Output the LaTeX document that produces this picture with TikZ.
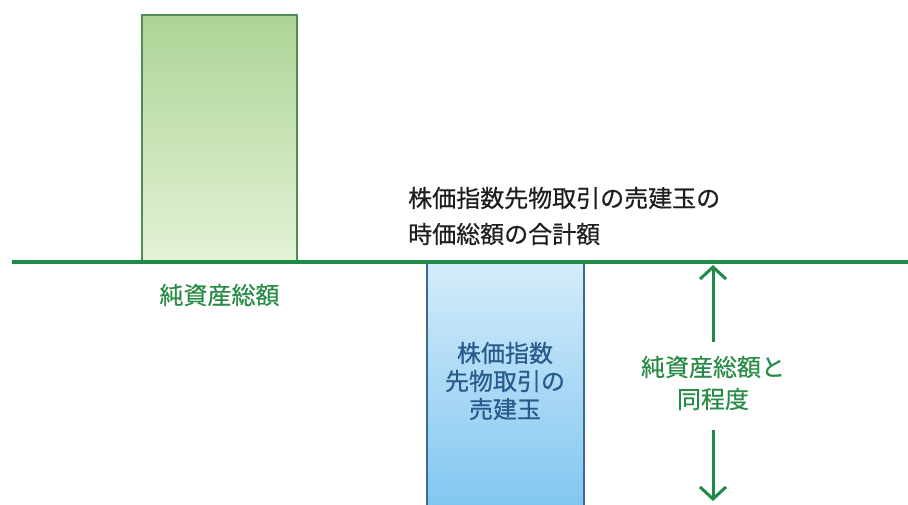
\documentclass[tikz,border=0pt]{standalone}
\usepackage{fontspec}
\setmainfont{Noto Sans CJK JP}[FakeBold=0.5]
\usetikzlibrary{arrows.meta}
\definecolor{lineg}{RGB}{30,140,70}
\definecolor{gtop}{RGB}{172,212,150}
\definecolor{gbot}{RGB}{228,242,214}
\definecolor{gedge}{RGB}{80,140,85}
\definecolor{btop}{RGB}{212,236,250}
\definecolor{bbot}{RGB}{128,198,240}
\definecolor{bedge}{RGB}{60,105,150}
\definecolor{btext}{RGB}{40,90,140}
\definecolor{gtext}{RGB}{40,140,70}
\definecolor{ktext}{RGB}{30,30,30}
\tikzset{
  lbl/.style={font=\fontsize{24}{32}\selectfont, align=center, inner sep=0pt},
  arr/.style={draw=lineg, line width=3pt, -{Straight Barb[length=12pt,width=26pt,line width=3pt]}}
}
\begin{document}
\begin{tikzpicture}[x=1pt,y=-1pt]
\useasboundingbox (0,0) rectangle (908,505);
\fill[white] (0,0) rectangle (908,505);
% green bar
\shade[top color=gtop, bottom color=gbot] (142,15) rectangle (297,262);
\draw[gedge, line width=2.5pt] (142,262) -- (142,15) -- (297,15) -- (297,262);
% blue bar
\begin{scope}
\clip (0,0) rectangle (908,505);
\shade[top color=btop, bottom color=bbot] (427,263) rectangle (584,510);
\draw[bedge, line width=2.5pt] (427,510) -- (427,263) -- (584,263) -- (584,510);
\end{scope}
% baseline
\coordinate (L) at (12,262);
\coordinate (R) at (908,262);
\draw[lineg, line width=4pt] (L) -- (R);
% labels
\node[lbl, text=ktext, align=left, anchor=west, font=\fontsize{24}{36}\selectfont] (top) at (408,216) {株価指数先物取引の売建玉の\\時価総額の合計額};
\node[lbl, text=gtext] (na) at (219.5,295) {純資産総額};
\node[lbl, text=btext, font=\fontsize{24}{28}\selectfont] (sell) at (505,381) {株価指数\\先物取引の\\売建玉};
\node[lbl, text=gtext] (same) at (713,383) {純資産総額と\\同程度};
\coordinate (up) at (713,265);
\coordinate (dn) at (713,501);
\draw[arr] (same.north |- 0,342) -- (up);
\draw[arr] (same.south |- 0,430) -- (dn);
\end{tikzpicture}
\end{document}
